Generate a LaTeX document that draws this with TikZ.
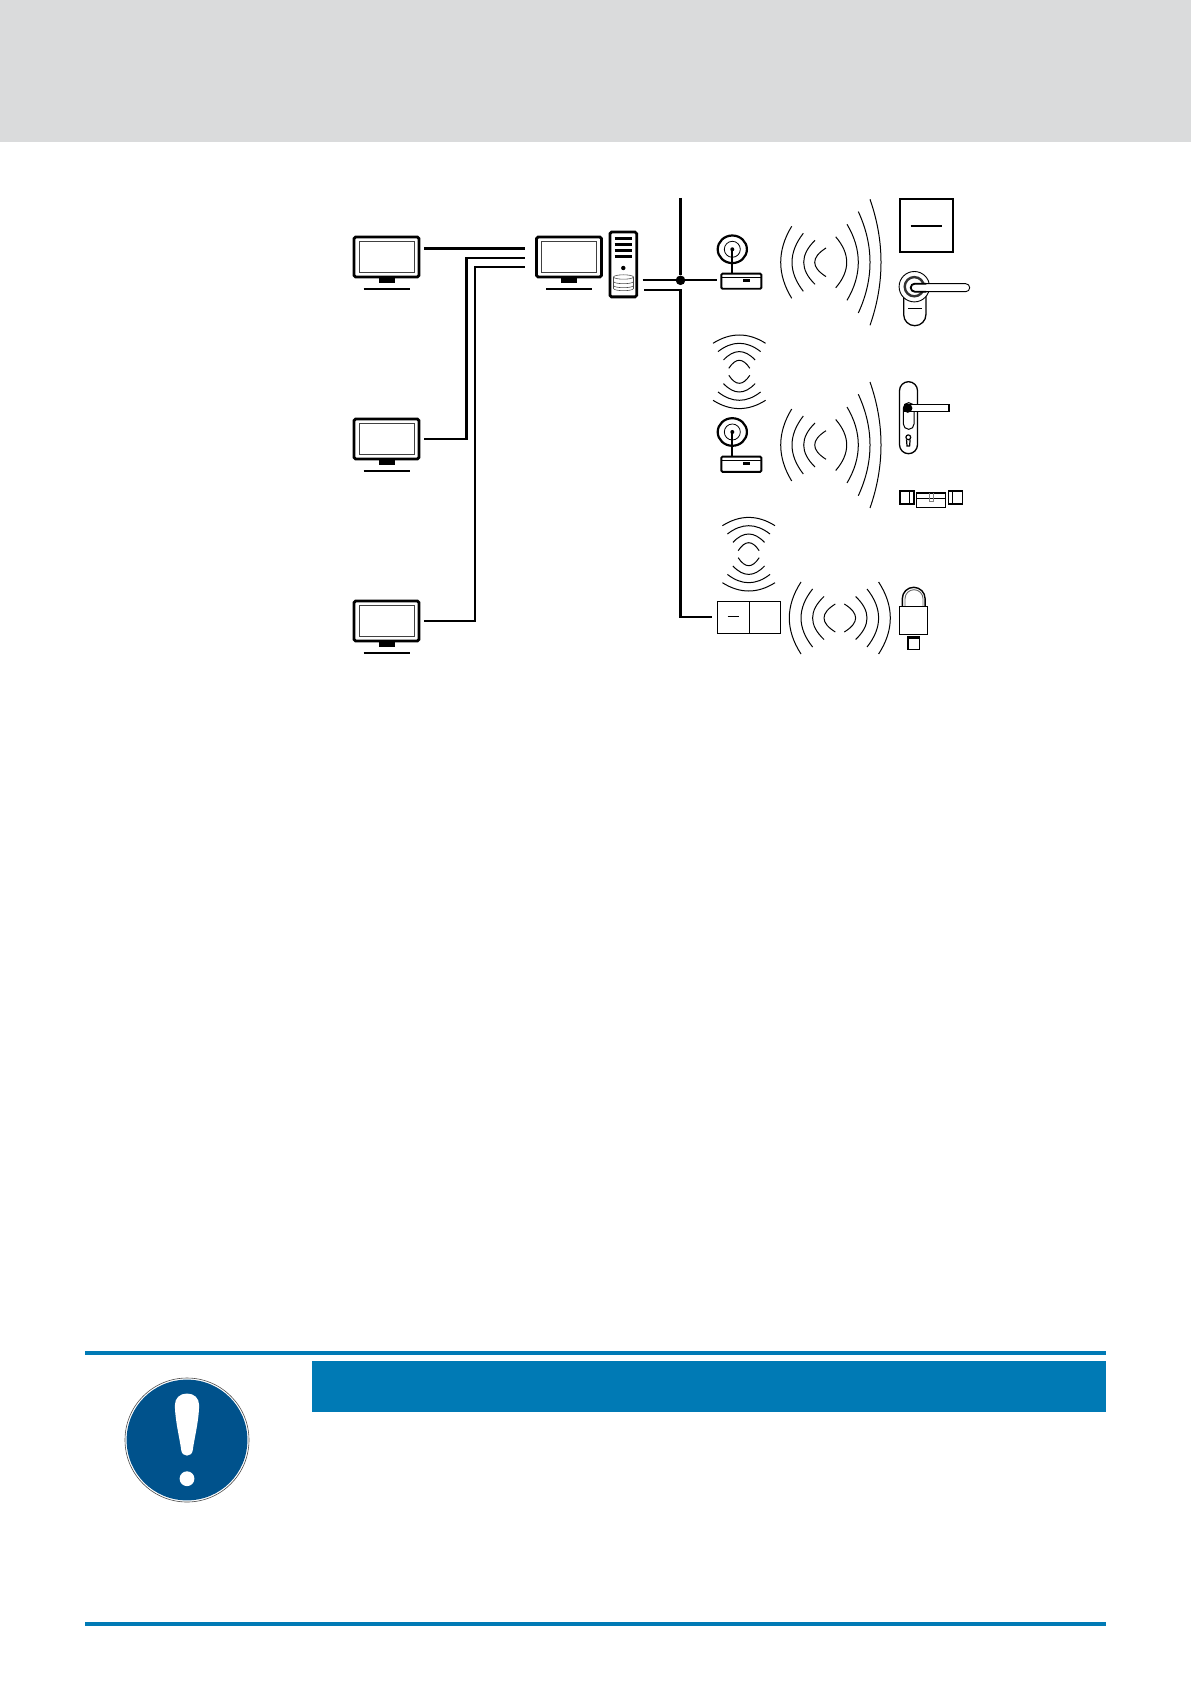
\documentclass[tikz,border=0pt]{standalone}
\usepackage{mathtools}

\definecolor{headgray}{HTML}{DADBDC}
\definecolor{barblue}{HTML}{007AB5}
\definecolor{signblue}{HTML}{00528C}

\tikzset{
    wire/.style={line width=1.15pt},
    wave/.style={line width=0.5pt},
    part/.style={draw, line width=0.65pt, fill=white, inner sep=0pt, outer sep=0pt},
    screen/.style={draw, line width=1.4pt, rounded corners=0.8pt, fill=white, minimum width=32.5pt, minimum height=20pt, inner sep=0pt, outer sep=0pt},
    glass/.style={draw=black!75, line width=0.45pt, minimum width=27.5pt, minimum height=15.5pt, inner sep=0pt, outer sep=0pt},
    boxunit/.style={draw, line width=0.95pt, rounded corners=0.6pt, fill=white, minimum width=20pt, minimum height=7.6pt, inner sep=0pt, outer sep=0pt},
    bar/.style={fill=barblue, inner sep=0pt, outer sep=0pt},
    junctiondot/.style={circle, fill=black, minimum size=4.8pt, inner sep=0pt, outer sep=0pt}
}

% One set of arcs around the x axis: tip / end of the arc / half of the chord
\newcommand{\wavearcs}[1]{
    \foreach \tip/\ends/\half in {#1} {
        \draw[wave] (\ends, -\half) .. controls ({(\ends)+4/3*((\tip)-(\ends))}, {-(\half)/3}) and ({(\ends)+4/3*((\tip)-(\ends))}, {(\half)/3}) .. (\ends, \half);
    }
}

\begin{document}
\begin{tikzpicture}[x=0.5pt, y=-0.5pt]
    \useasboundingbox (0, 0) rectangle (1191, 1684);

    % Draw the grey header
    \fill[headgray] (0, 0) rectangle (1191, 142);

    % Draw the monitors
    \foreach \name/\mx/\my in {pcone/386.5/257, pctwo/386.5/439, pcthree/386.5/621, pcmain/569/257} {
        \node[screen] (\name) at (\mx, \my) {};
        \node[glass] (\name glass) at (\mx, \my) {};
        \fill (\mx-8, \my+20) rectangle (\mx+8, \my+26);
        \draw[line width=1.1pt] (\mx-23, \my+32) -- (\mx+23, \my+32);
    }

    % Draw the tower with its database
    \node[draw, line width=1.4pt, rounded corners=0.8pt, minimum width=13.4pt, minimum height=32.4pt, inner sep=0pt, outer sep=0pt] (tower) at (623.3, 264.5) {};
    \foreach \ly in {238.5, 244.5, 250.5, 256.5} {
        \draw[line width=1.1pt] (614.5, \ly) -- (631.5, \ly);
    }
    \fill (623.3, 268) circle (1.1pt);
    \begin{scope}[black!70, line width=0.3pt]
        \draw (613.5, 277) -- (613.5, 288.5) arc[start angle=180, end angle=360, x radius=5pt, y radius=1.1pt] -- (633.5, 277);
        \draw (623.5, 277) ellipse [x radius=5pt, y radius=1.1pt];
        \draw (613.5, 281.5) arc[start angle=180, end angle=360, x radius=5pt, y radius=1.1pt];
        \draw (613.5, 285.5) arc[start angle=180, end angle=360, x radius=5pt, y radius=1.1pt];
    \end{scope}

    % Draw the lines to the main monitor
    \coordinate (inone) at (525, 248.5);
    \coordinate (intwo) at (525, 258);
    \coordinate (inthree) at (525, 267);
    \draw[wire, shorten <=2.5pt] (pcone.east |- inone) -- (inone);
    \draw[wire, shorten <=2.5pt] (pctwo.east) -| (466.5, 258) -- (intwo);
    \draw[wire, shorten <=2.5pt] (pcthree.east) -| (475, 267) -- (inthree);

    % Draw the bus
    \node[junctiondot] (junction) at (680.5, 280.3) {};
    \coordinate (busend) at (680.5, 198);
    \coordinate (outtwo) at (638, 290);
    \node[boxunit] (routerone) at (741.3, 281.2) {};
    \node[part, minimum width=16pt, minimum height=16pt] (panelleft) at (733.2, 617.3) {};
    \node[part, minimum width=15.5pt, minimum height=16pt] (panelright) at (764.7, 617.3) {};
    \draw[wire] (busend) -- (junction);
    \draw[wire, shorten <=3pt] (tower.east |- junction) -- (junction);
    \draw[wire, shorten >=2pt] (junction) -- (routerone.west |- junction);
    \draw[wire, shorten <=3pt, shorten >=2.8pt] (outtwo) -| (junction |- panelleft.west) -- (panelleft.west);

    % Draw the first router
    \draw[line width=1.1pt] (732.3, 249.3) ellipse [x radius=7.3pt, y radius=6.9pt];
    \draw[line width=0.4pt] (732.3, 249.3) circle (4pt);
    \fill (732.3, 249.3) circle (1pt);
    \draw[line width=0.85pt] (732.3, 249.3) -- (732.3, 273);
    \draw[line width=0.35pt] (722, 277.5) -- (760.5, 277.5);
    \fill (743.3, 279) rectangle (750, 282.3);

    % Draw the second router
    \node[boxunit] (routertwo) at (741.3, 464.2) {};
    \draw[line width=1.1pt] (732.3, 432) ellipse [x radius=7.3pt, y radius=6.9pt];
    \draw[line width=0.4pt] (732.3, 432) circle (4pt);
    \fill (732.3, 432) circle (1pt);
    \draw[line width=0.85pt] (732.3, 432) -- (732.3, 456);
    \draw[line width=0.35pt] (722, 460.5) -- (760.5, 460.5);
    \fill (743.3, 462) rectangle (750, 465.3);

    % Draw the dash on the panel
    \draw[line width=0.4pt] (727.7, 616.3) -- (739, 616.3);

    % Draw the waves
    \begin{scope}[shift={(0, 262.3)}]
        \wavearcs{780.7/791.7/36, 792/803.3/29, 803.7/815/22, 814.7/826/14.3, 846.7/835.7/25.5, 858.3/847/38, 870/858.3/50.7, 881/870/63}
    \end{scope}
    \begin{scope}[shift={(0, 445)}]
        \wavearcs{780.7/791.7/36, 792/803.3/29, 803.7/815/22, 814.7/826/14.3, 846.7/835.7/25.5, 858.3/847/38, 870/858.3/50.7, 881/870/63}
    \end{scope}
    \begin{scope}[shift={(839.8, 618)}]
        \wavearcs{-50.5/-38.8/36, -38.8/-27.2/29, -27.2/-15.8/21.5, -15.8/-4.5/14, 50.5/38.8/36, 38.8/27.2/29, 27.2/15.8/21.5, 15.8/4.5/14}
    \end{scope}
    \begin{scope}[shift={(739.3, 371.8)}, rotate=90]
        \wavearcs{-36.8/-28.5/26.3, -28.5/-20.2/21.3, -20.2/-11.8/15.8, -11.5/-3.5/10.5, 36.8/28.5/26.3, 28.5/20.2/21.3, 20.2/11.8/15.8, 11.5/3.5/10.5}
    \end{scope}
    \begin{scope}[shift={(748.7, 554.2)}, rotate=90]
        \wavearcs{-36.8/-28.5/26.3, -28.5/-20.2/21.3, -20.2/-11.8/15.8, -11.5/-3.5/10.5, 36.8/28.5/26.3, 28.5/20.2/21.3, 20.2/11.8/15.8, 11.5/3.5/10.5}
    \end{scope}

    % Draw the wall reader
    \node[part, line width=1pt, minimum width=26.4pt, minimum height=26.4pt] (reader) at (926.5, 225.7) {};
    \draw[line width=0.85pt] (910.7, 225.7) -- (942, 225.7);

    % Draw the first handle
    \node[part, minimum width=11.1pt, minimum height=25.5pt, rounded corners=5.5pt] (shieldone) at (914.8, 300.2) {};
    \draw[line width=0.4pt] (908.3, 308) -- (922.3, 308);
    \draw[line width=0.45pt, fill=white] (914.3, 286.7) circle (7.6pt);
    \draw[line width=1.2pt, black!80] (914.3, 286.7) circle (4.8pt);
    \node[part, line width=0.45pt, minimum width=29.5pt, minimum height=4pt, rounded corners=2pt] (leverone) at (940.2, 287.7) {};
    \draw[line width=0.9pt, line cap=round] (926, 283.7) -- (914.7, 283.7) arc[start angle=90, end angle=270, radius=2pt] -- (926, 291.7);

    % Draw the second handle
    \node[part, minimum width=9pt, minimum height=36pt, rounded corners=4.5pt] (shieldtwo) at (908.5, 417.7) {};
    \node[part, line width=0.5pt, minimum width=5.3pt, minimum height=13.3pt, rounded corners=2.6pt] (slot) at (908.7, 416) {};
    \node[part, minimum width=22pt, minimum height=3.5pt] (levertwo) at (927, 408.2) {};
    \fill (907.8, 408.2) circle (2.3pt);
    \draw[line width=0.6pt] (908.3, 437.3) circle (1.2pt);
    \draw[line width=0.6pt] (906.5, 439.5) -- (907, 446) -- (909.6, 446) -- (910.1, 439.5);

    % Draw the cylinder
    \node[part, minimum width=7pt, minimum height=6.5pt] (knobleft) at (907, 497.5) {};
    \node[part, minimum width=14.5pt, minimum height=7.3pt] (cylbody) at (931.2, 500.3) {};
    \node[part, minimum width=7pt, minimum height=6.5pt] (knobright) at (955.3, 497.5) {};
    \draw[line width=0.3pt] (909.3, 491) -- (909.3, 504);
    \draw[line width=0.3pt] (952.7, 491) -- (952.7, 504);
    \draw[line width=0.3pt] (916.7, 498.3) -- (945.7, 498.3);
    \draw[line width=0.3pt, black!50] (929.3, 493) -- (929.3, 501) -- (933.3, 501) -- (933.3, 493);

    % Draw the padlock
    \draw[line width=0.7pt] (902.3, 606.7) -- (902.3, 598.7) arc[start angle=180, end angle=0, radius=5.7pt] -- (925.1, 606.7);
    \draw[line width=0.45pt, black!60] (905, 606.7) -- (905, 598.7) arc[start angle=180, end angle=0, radius=4.5pt] -- (923, 606.7);
    \node[part, minimum width=14.2pt, minimum height=13.8pt] (lockbody) at (913.5, 620.5) {};
    \node[part, minimum width=5.8pt, minimum height=6.3pt] (lockpin) at (913.8, 643) {};
    \fill (908, 636.7) rectangle (919.7, 638.7);

    % Draw the notice
    \node[bar, minimum width=510.5pt, minimum height=2pt] (topbar) at (595.5, 1353) {};
    \node[bar, minimum width=510.5pt, minimum height=2pt] (bottombar) at (595.5, 1624) {};
    \node[bar, minimum width=397pt, minimum height=25.5pt] (titlebar) at (709, 1386.5) {};

    % Draw the sign
    \draw[black!70, line width=0.3pt] (187, 1440) circle (31pt);
    \fill[signblue] (187, 1440) circle (30.2pt);
    \fill[white] (174.9, 1405) .. controls (174.9, 1398) and (180, 1393.5) .. (187, 1393.5)
        .. controls (194, 1393.5) and (199.1, 1398) .. (199.1, 1405)
        .. controls (199.1, 1420) and (194, 1440) .. (192.8, 1450)
        .. controls (192, 1457.5) and (182, 1457.5) .. (181.2, 1450)
        .. controls (180, 1440) and (174.9, 1420) .. (174.9, 1405) -- cycle;
    \fill[white] (187, 1478.7) circle (3.7pt);
\end{tikzpicture}
\end{document}
